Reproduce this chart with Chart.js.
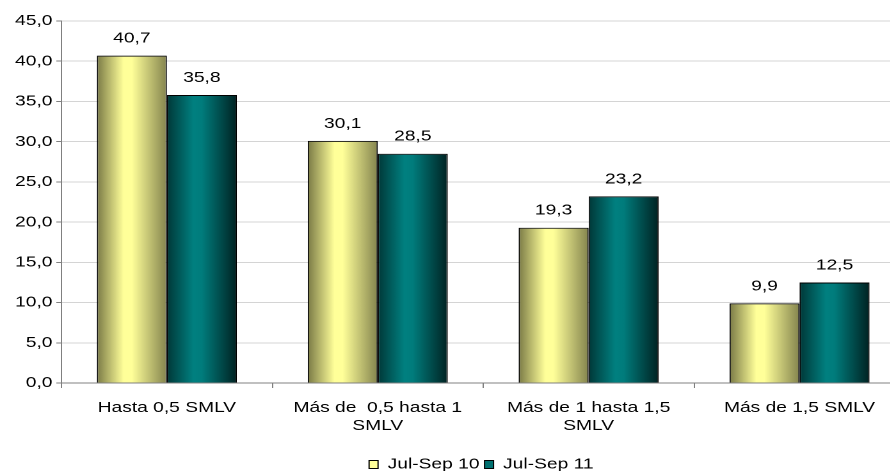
<!DOCTYPE html>
<html>
<head>
<meta charset="utf-8">
<script src="https://cdn.jsdelivr.net/npm/chart.js@4.4.1/dist/chart.umd.min.js"></script>
<style>
  html, body { margin: 0; padding: 0; background: #fff; overflow: hidden; }
  /* the source picture is stretched sideways, so the whole chart is too */
  #wrap { transform: scaleX(1.28); transform-origin: 0 0; width: 752px; height: 471px; }
</style>
</head>
<body>
<div id="wrap"><canvas id="myChart" width="752" height="471"></canvas></div>
<script>
const categories = [
    'Hasta 0,5 SMLV',
    ['Más de  0,5 hasta 1', 'SMLV'],
    ['Más de 1 hasta 1,5', 'SMLV'],
    'Más de 1,5 SMLV'
];
const seriesNames = ['Jul-Sep 10', 'Jul-Sep 11'];
const julSep10 = [40.7, 30.1, 19.3, 9.9];
const julSep11 = [35.8, 28.5, 23.2, 12.5];
const yTicks = [0, 5, 10, 15, 20, 25, 30, 35, 40, 45];

const fmt = v => Number(v).toFixed(1).replace('.', ',');

// gradient stops per series (left edge, highlight, right edge)
const shades = [
    ['#7a7a46', '#ffff99', '#ffff99', '#84844e'],
    ['#003838', '#008080', '#007c7c', '#002222']
];

const gradientBars = {
    id: 'gradientBars',
    beforeDatasetsDraw(chart) {
        const ctx = chart.ctx;
        chart.data.datasets.forEach((ds, di) => {
            const meta = chart.getDatasetMeta(di);
            meta.data.forEach(el => {
                const p = el.getProps(['x', 'width'], true);
                const left = p.x - p.width / 2;
                const g = ctx.createLinearGradient(left, 0, left + p.width, 0);
                const s = shades[di];
                g.addColorStop(0, s[0]);
                g.addColorStop(0.38, s[1]);
                g.addColorStop(0.5, s[2]);
                g.addColorStop(1, s[3]);
                el.options.backgroundColor = g;
            });
        });
    }
};

const valueLabels = {
    id: 'valueLabels',
    afterDatasetsDraw(chart) {
        const ctx = chart.ctx;
        ctx.save();
        ctx.font = '15px "Liberation Sans", Arial, sans-serif';
        ctx.fillStyle = '#000';
        ctx.textAlign = 'center';
        ctx.textBaseline = 'alphabetic';
        chart.data.datasets.forEach((ds, di) => {
            chart.getDatasetMeta(di).data.forEach((el, i) => {
                ctx.fillText(fmt(ds.data[i]), el.x, el.y - 13);
            });
        });
        ctx.restore();
    }
};

Chart.defaults.font.family = '"Liberation Sans", Arial, sans-serif';
Chart.defaults.font.size = 15;
Chart.defaults.color = '#000';

const ctx = document.getElementById('myChart').getContext('2d');
const chartInstance = new Chart(ctx, {
    type: 'bar',
    data: {
        labels: categories,
        datasets: [
            {
                label: seriesNames[0],
                data: julSep10,
                backgroundColor: () => '#ffff99',
                borderColor: '#000',
                borderWidth: 1,
                borderSkipped: 'bottom',
                categoryPercentage: 0.664,
                barPercentage: 1.0
            },
            {
                label: seriesNames[1],
                data: julSep11,
                backgroundColor: () => '#007070',
                borderColor: '#000',
                borderWidth: 1,
                borderSkipped: 'bottom',
                categoryPercentage: 0.664,
                barPercentage: 1.0
            }
        ]
    },
    options: {
        responsive: false,
        animation: false,
        devicePixelRatio: 2,
        layout: { padding: { top: 21, bottom: -11, left: 0, right: 0 } },
        plugins: {
            tooltip: { enabled: false },
            legend: {
                position: 'bottom',
                labels: {
                    boxWidth: 7,
                    boxHeight: 8,
                    padding: 4,
                    color: '#000',
                    font: { size: 15 }
                }
            }
        },
        scales: {
            x: {
                grid: {
                    offset: true,
                    drawOnChartArea: false,
                    tickLength: 5,
                    tickColor: '#808080'
                },
                border: { color: '#808080' },
                ticks: { padding: 11, maxRotation: 0, autoSkip: false, font: { size: 15 } },
                afterFit(s) { s.height = 70; }
            },
            y: {
                min: 0,
                max: 45,
                afterBuildTicks(s) { s.ticks = yTicks.map(v => ({ value: v })); },
                grid: { color: '#d4d4d4', tickLength: 4, tickColor: '#808080' },
                border: { color: '#808080' },
                ticks: { padding: 3, callback: v => fmt(v), font: { size: 15 } },
                afterFit(s) { s.width = 48; }
            },
            spare: {
                type: 'linear',
                position: 'right',
                display: true,
                grid: { drawOnChartArea: false, drawTicks: false },
                border: { display: false },
                ticks: { display: false },
                afterFit(s) { s.width = 45; }
            }
        }
    },
    plugins: [gradientBars, valueLabels]
});
</script>
</body>
</html>
